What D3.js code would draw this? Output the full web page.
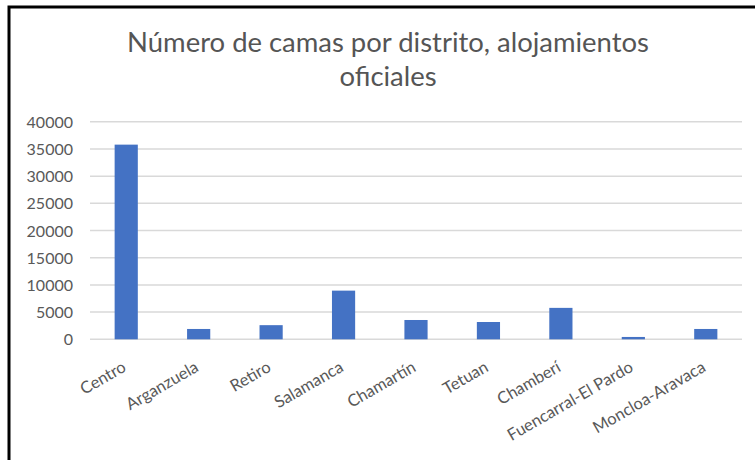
<!DOCTYPE html>
<html>
<head>
<meta charset="utf-8">
<script src="https://cdn.jsdelivr.net/npm/d3@7"></script>
<style>
  body { margin: 0; background: #fff; }
  svg { display: block; font-family: Lato, "Open Sans", sans-serif; }
</style>
</head>
<body>
<svg id="grafico" width="755" height="460"></svg>
<script>
// Datos
let distritos = ["Centro", "Arganzuela", "Retiro", "Salamanca", "Chamartín",
  "Tetuan", "Chamberí", "Fuencarral-El Pardo", "Moncloa-Aravaca"];
let camas = [35800, 1900, 2600, 8950, 3550, 3180, 5780, 430, 1900];
let ticksY = [0, 5000, 10000, 15000, 20000, 25000, 30000, 35000, 40000];

let svg = d3.select("#grafico");

// Marco
svg.append("path")
  .attr("d", "M9,470 L9,7 L770,7")
  .attr("fill", "none")
  .attr("stroke", "#000")
  .attr("stroke-width", 3);

// Título (ajustado al ancho del original)
let titulo = svg.append("text")
  .attr("text-anchor", "middle")
  .attr("fill", "#555555")
  .attr("font-size", 24);
let linea1 = titulo.append("tspan").attr("x", 388).attr("y", 52)
  .text("Número de camas por distrito, alojamientos");
titulo.append("tspan").attr("x", 388).attr("y", 86)
  .text("oficiales");
let anchoTitulo = linea1.node().getComputedTextLength();
titulo.attr("font-size", 24 * 522 / anchoTitulo);

let izq = 90, der = 742, arriba = 121.8, abajo = 339.3;

let fnX = d3.scaleBand().domain(distritos).range([izq, der])
  .paddingInner(0.68).paddingOuter(0.34);
let fnY = d3.scaleLinear().domain([0, 40000]).range([abajo, arriba]);

// Rejilla
svg.selectAll(".rejilla")
  .data(ticksY)
  .enter()
  .append("line")
  .classed("rejilla", true)
  .attr("x1", izq)
  .attr("x2", der)
  .attr("y1", d => fnY(d))
  .attr("y2", d => fnY(d))
  .attr("stroke", "#d9d9d9")
  .attr("stroke-width", 1.5);

// Eje Y
let ejeY = svg.append("g")
  .attr("transform", `translate(${izq - 17},0)`)
  .call(d3.axisLeft(fnY).tickValues(ticksY).tickFormat(d3.format("d"))
    .tickSize(0).tickPadding(0));
ejeY.select(".domain").remove();
ejeY.selectAll("text")
  .attr("font-size", 16)
  .attr("font-family", "Lato, sans-serif")
  .attr("fill", "#595959")
  .attr("dy", "0.35em");

// Barras
svg.selectAll(".barra")
  .data(camas)
  .enter()
  .append("rect")
  .classed("barra", true)
  .attr("x", (d, i) => fnX(distritos[i]))
  .attr("y", d => fnY(d))
  .attr("width", fnX.bandwidth())
  .attr("height", d => abajo - fnY(d))
  .attr("fill", "#4472c4");

// Eje X
let ejeX = svg.append("g")
  .attr("transform", `translate(0,${abajo})`)
  .call(d3.axisBottom(fnX).tickSize(0).tickPadding(0));
ejeX.select(".domain").remove();
ejeX.selectAll("text")
  .attr("font-size", 16.5)
  .attr("font-family", "Lato, sans-serif")
  .attr("fill", "#595959")
  .attr("text-anchor", "end")
  .attr("dy", 0)
  .attr("transform", "translate(1,31) rotate(-30)");
</script>
</body>
</html>
